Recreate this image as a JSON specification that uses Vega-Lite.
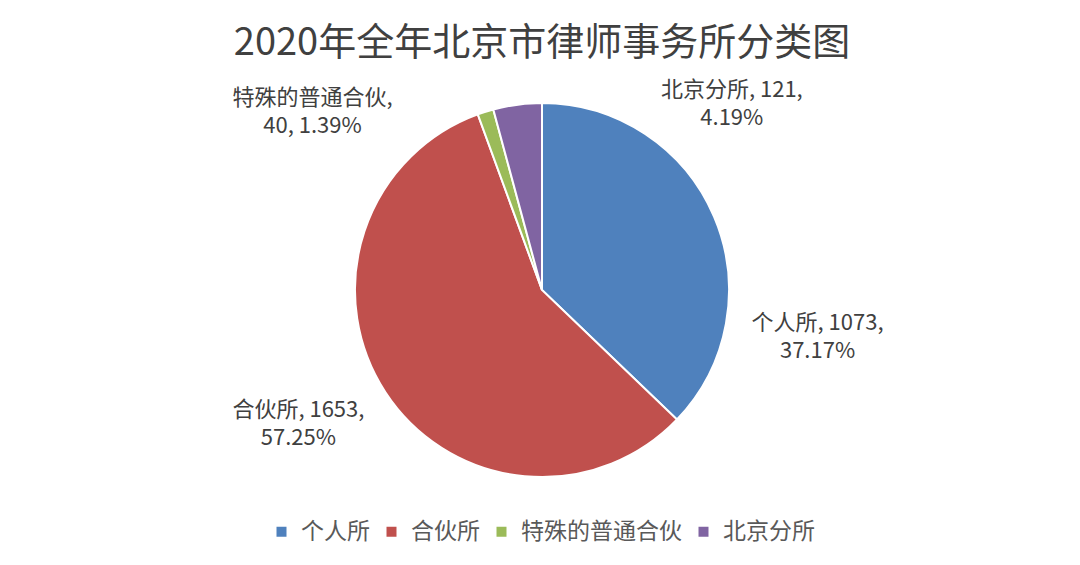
{
  "$schema": "https://vega.github.io/schema/vega-lite/v6.json",
  "autosize": {"type": "none"},
  "width": 1076,
  "height": 440,
  "padding": {"left": 4, "top": 70, "right": 0, "bottom": 55},
  "background": "white",
  "title": {"text": "2020年全年北京市律师事务所分类图", "font": "Noto Sans CJK SC", "fontSize": 38, "fontWeight": "normal", "color": "#404040", "offset": -18, "anchor": "middle"},
  "data": {"values": [
    {"category": "个人所", "count": 1073, "order": 1, "label": "个人所, 1073,\n37.17%"},
    {"category": "合伙所", "count": 1653, "order": 2, "label": "合伙所, 1653,\n57.25%"},
    {"category": "特殊的普通合伙", "count": 40, "order": 3, "label": "特殊的普通合伙,\n40, 1.39%"},
    {"category": "北京分所", "count": 121, "order": 4, "label": "北京分所, 121,\n4.19%"}
  ]},
  "encoding": {
    "theta": {"field": "count", "type": "quantitative", "stack": true},
    "order": {"field": "order", "type": "quantitative"}
  },
  "layer": [
    {
      "mark": {"type": "arc", "outerRadius": 187, "stroke": "white", "strokeWidth": 2},
      "encoding": {
        "color": {"field": "category", "type": "nominal",
          "sort": ["个人所", "合伙所", "特殊的普通合伙", "北京分所"],
          "scale": {"domain": ["个人所", "合伙所", "特殊的普通合伙", "北京分所"], "range": ["#4F81BD", "#C0504D", "#9BBB59", "#8064A2"]},
          "legend": {"title": null, "orient": "none", "legendX": 266, "legendY": 450, "direction": "horizontal", "symbolType": "square", "symbolSize": 100, "labelFont": "Noto Sans CJK SC", "labelFontSize": 23, "labelColor": "#595959", "labelLimit": 400, "columnPadding": 10, "labelOffset": 8, "symbolStrokeWidth": 0}
        }
      }
    },
    {
      "mark": {"type": "text", "radius": 230, "dx": 64, "dy": 123, "font": "Noto Sans CJK SC", "fontSize": 22, "color": "#404040", "lineBreak": "\n", "lineHeight": 28, "align": "center", "baseline": "middle"},
      "encoding": {"text": {"condition": {"test": "datum.category === '个人所'", "field": "label"}, "value": ""}}
    },
    {
      "mark": {"type": "text", "radius": 230, "dx": -51, "dy": -6, "font": "Noto Sans CJK SC", "fontSize": 22, "color": "#404040", "lineBreak": "\n", "lineHeight": 28, "align": "center", "baseline": "middle"},
      "encoding": {"text": {"condition": {"test": "datum.category === '合伙所'", "field": "label"}, "value": ""}}
    },
    {
      "mark": {"type": "text", "radius": 230, "dx": -160, "dy": 27, "font": "Noto Sans CJK SC", "fontSize": 22, "color": "#404040", "lineBreak": "\n", "lineHeight": 28, "align": "center", "baseline": "middle"},
      "encoding": {"text": {"condition": {"test": "datum.category === '特殊的普通合伙'", "field": "label"}, "value": ""}}
    },
    {
      "mark": {"type": "text", "radius": 230, "dx": 220, "dy": 28, "font": "Noto Sans CJK SC", "fontSize": 22, "color": "#404040", "lineBreak": "\n", "lineHeight": 28, "align": "center", "baseline": "middle"},
      "encoding": {"text": {"condition": {"test": "datum.category === '北京分所'", "field": "label"}, "value": ""}}
    }
  ],
  "config": {"view": {"stroke": null}}
}
